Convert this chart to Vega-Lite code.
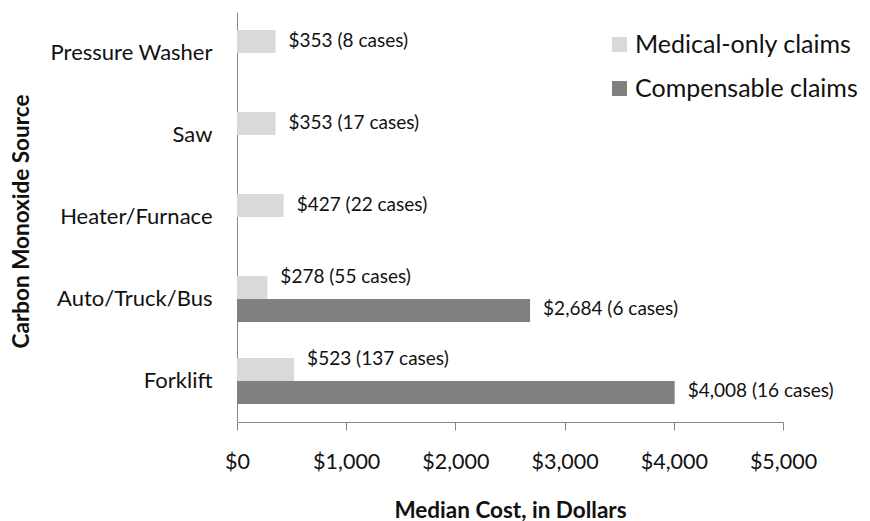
{
  "$schema": "https://vega.github.io/schema/vega-lite/v6.json",
  "width": 546,
  "height": 410,
  "autosize": {"type": "none"},
  "padding": {"left": 237, "top": 12, "right": 87, "bottom": 99},
  "background": "white",
  "config": {
    "view": {"stroke": null},
    "font": "Lato",
    "axis": {"grid": false, "domainColor": "#868686", "tickColor": "#868686", "labelColor": "#111111", "titleColor": "#111111", "labelFont": "Lato", "titleFont": "Lato"}
  },
  "data": {
    "values": [
      {"source": "Pressure Washer", "type": "Medical-only claims", "cost": 353, "cases": 8},
      {"source": "Saw", "type": "Medical-only claims", "cost": 353, "cases": 17},
      {"source": "Heater/Furnace", "type": "Medical-only claims", "cost": 427, "cases": 22},
      {"source": "Auto/Truck/Bus", "type": "Medical-only claims", "cost": 278, "cases": 55},
      {"source": "Auto/Truck/Bus", "type": "Compensable claims", "cost": 2684, "cases": 6},
      {"source": "Forklift", "type": "Medical-only claims", "cost": 523, "cases": 137},
      {"source": "Forklift", "type": "Compensable claims", "cost": 4008, "cases": 16}
    ]
  },
  "transform": [
    {"calculate": "'$' + format(datum.cost, ',') + ' (' + datum.cases + ' cases)'", "as": "label"}
  ],
  "encoding": {
    "y": {
      "field": "source",
      "type": "nominal",
      "sort": ["Pressure Washer", "Saw", "Heater/Furnace", "Auto/Truck/Bus", "Forklift"],
      "scale": {"paddingInner": 0.44, "paddingOuter": 0.22},
      "axis": {
        "title": "Carbon Monoxide Source",
        "ticks": false,
        "tickSize": 0,
        "labelPadding": 25,
        "labelFontSize": 22,
        "labelLimit": 300,
        "titleFontSize": 22.5,
        "titleFontWeight": "bold",
        "titleX": -216,
        "titleY": 209,
        "titleAngle": 270,
        "titleAlign": "center",
        "titleBaseline": "middle"
      }
    },
    "yOffset": {
      "field": "type",
      "type": "nominal",
      "scale": {"domain": ["Medical-only claims", "Compensable claims"]}
    },
    "x": {
      "field": "cost",
      "type": "quantitative",
      "scale": {"domain": [0, 5000], "nice": false},
      "axis": {
        "title": "Median Cost, in Dollars",
        "values": [0, 1000, 2000, 3000, 4000, 5000],
        "format": "$,.0f",
        "tickSize": 8,
        "labelPadding": 32,
        "labelBaseline": "middle",
        "labelFlush": false,
        "labelOverlap": false,
        "labelBound": false,
        "labelFontSize": 21.5,
        "titleFontSize": 22.5,
        "titleFontWeight": "bold",
        "titleX": 273,
        "titleY": 88,
        "titleBaseline": "middle"
      }
    }
  },
  "layer": [
    {
      "mark": {"type": "bar"},
      "encoding": {
        "color": {
          "field": "type",
          "type": "nominal",
          "scale": {"domain": ["Medical-only claims", "Compensable claims"], "range": ["#d9d9d9", "#808080"]},
          "legend": {
            "title": null,
            "orient": "none",
            "legendX": 370,
            "legendY": 20,
            "padding": 0,
            "symbolType": "square",
            "symbolSize": 225,
            "symbolStrokeWidth": 0,
            "labelFontSize": 25,
            "labelFont": "Lato",
            "labelColor": "#111111",
            "labelOffset": 3,
            "labelLimit": 400,
            "rowPadding": 18
          }
        }
      }
    },
    {
      "transform": [{"filter": "!(datum.type == 'Medical-only claims' && (datum.source == 'Auto/Truck/Bus' || datum.source == 'Forklift'))"}],
      "mark": {"type": "text", "align": "left", "baseline": "middle", "dx": 13, "dy": -1, "fontSize": 19, "font": "Lato", "color": "#111111"},
      "encoding": {"text": {"field": "label"}}
    },
    {
      "transform": [{"filter": "datum.type == 'Medical-only claims' && (datum.source == 'Auto/Truck/Bus' || datum.source == 'Forklift')"}],
      "mark": {"type": "text", "align": "left", "baseline": "middle", "dx": 13, "dy": -11, "fontSize": 19, "font": "Lato", "color": "#111111"},
      "encoding": {"text": {"field": "label"}}
    }
  ]
}
